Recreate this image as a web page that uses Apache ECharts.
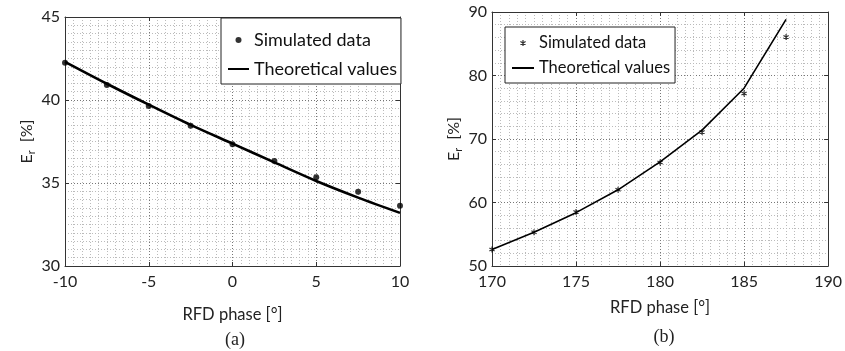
<!DOCTYPE html>
<html>
<head>
<meta charset="utf-8">
<script src="https://cdn.jsdelivr.net/npm/echarts@6/dist/echarts.min.js"></script>
<style>html,body{margin:0;padding:0;background:#fff}#c{width:845px;height:351px}</style>
</head>
<body>
<div id="c"></div>
<script>
// Panel (a)
const phaseA = [-10, -7.5, -5, -2.5, 0, 2.5, 5, 7.5, 10];
const simA = [42.25, 40.9, 39.64, 38.45, 37.33, 36.33, 35.34, 34.48, 33.63];
const theoA = [42.3, 40.98, 39.72, 38.5, 37.37, 36.24, 35.12, 34.12, 33.2];
// Panel (b)
const phaseB = [170, 172.5, 175, 177.5, 180, 182.5, 185, 187.5];
const simB = [52.6, 55.3, 58.5, 62.0, 66.3, 71.1, 77.15, 86.06];
const theoB = [52.6, 55.3, 58.4, 62.0, 66.4, 71.4, 78.0, 88.85];
const xTicksA = [-10, 10, 5];
const yTicksA = [30, 45, 5];
const xTicksB = [170, 190, 5];
const yTicksB = [50, 90, 10];
const legendNames = ['Simulated data', 'Theoretical values'];
const xTitle = 'RFD phase [°]';
const panelLabels = ['(a)', '(b)'];

const pairs = (xs, ys) => xs.map((x, i) => [x, ys[i]]);
const FONT = 'Lato';
const asterisk = 'path://M0,-1L0,1M-0.87,-0.5L0.87,0.5M-0.87,0.5L0.87,-0.5';

function mainX(idx, t, gap) {
  return {
    type: 'value', gridIndex: idx, min: t[0], max: t[1], interval: t[2],
    name: xTitle, nameLocation: 'middle', nameGap: gap,
    nameTextStyle: {fontFamily: FONT, fontSize: 16.5, color: '#222'},
    axisLine: {show: true, onZero: false, lineStyle: {color: '#333', width: 1}},
    axisTick: {show: true, inside: true, length: 4, lineStyle: {color: '#333'}},
    axisLabel: {fontFamily: FONT, fontSize: 16, color: '#222', margin: 8},
    splitLine: {show: true, lineStyle: {color: '#777', type: [1, 2], width: 1}},
    minorTick: {show: false, splitNumber: 10},
    minorSplitLine: {show: true, lineStyle: {color: '#bbb', type: [1, 2], width: 1}}
  };
}
function mainY(idx, t, gap, minorN) {
  return {
    type: 'value', gridIndex: idx, min: t[0], max: t[1], interval: t[2],
    name: '{a|E}{b|r}{a|  [%]}', nameLocation: 'middle', nameGap: gap, nameRotate: 90,
    nameTextStyle: {fontFamily: FONT, color: '#222',
      rich: {a: {fontFamily: FONT, fontSize: 16, lineHeight: 22, color: '#222'},
             b: {fontFamily: FONT, fontSize: 10.5, lineHeight: 10, verticalAlign: 'bottom', color: '#222'}}},
    axisLine: {show: true, onZero: false, lineStyle: {color: '#333', width: 1}},
    axisTick: {show: true, inside: true, length: 4, lineStyle: {color: '#333'}},
    axisLabel: {fontFamily: FONT, fontSize: 16, color: '#222', margin: 5},
    splitLine: {show: true, lineStyle: {color: '#777', type: [1, 2], width: 1}},
    minorTick: {show: false, splitNumber: minorN},
    minorSplitLine: {show: true, lineStyle: {color: '#bbb', type: [1, 2], width: 1}}
  };
}
function boxX(idx, t) {
  return {type: 'value', gridIndex: idx, position: 'top', min: t[0], max: t[1], interval: t[2],
    axisLine: {show: true, onZero: false, lineStyle: {color: '#333'}},
    axisTick: {show: true, inside: true, length: 4, lineStyle: {color: '#333'}},
    axisLabel: {show: false}, splitLine: {show: false}};
}
function boxY(idx, t) {
  return {type: 'value', gridIndex: idx, position: 'right', min: t[0], max: t[1], interval: t[2],
    axisLine: {show: true, onZero: false, lineStyle: {color: '#333'}},
    axisTick: {show: true, inside: true, length: 4, lineStyle: {color: '#333'}},
    axisLabel: {show: false}, splitLine: {show: false}};
}
const noDot = {color: 'rgba(0,0,0,0)', borderWidth: 0, borderColor: 'rgba(0,0,0,0)'};

const chart = echarts.init(document.getElementById('c'), null, {renderer: 'canvas'});
chart.setOption({
  animation: false,
  backgroundColor: '#fff',
  grid: [
    {left: 65, right: 445, top: 17, bottom: 85},
    {left: 492, right: 13, top: 12, bottom: 85}
  ],
  xAxis: [mainX(0, xTicksA, 40), mainX(1, xTicksB, 33), boxX(0, xTicksA), boxX(1, xTicksB)],
  yAxis: [mainY(0, yTicksA, 22, 10), mainY(1, yTicksB, 26, 5), boxY(0, yTicksA), boxY(1, yTicksB)],
  legend: [
    {
      left: 221, top: 18, orient: 'vertical',
      data: [{name: legendNames[0] + '|a'}, {name: legendNames[1] + '|a', itemStyle: noDot}],
      formatter: n => n.split('|')[0],
      itemWidth: 21, itemHeight: 6, itemGap: 9,
      padding: [12, 4, 5, 6],
      backgroundColor: '#fff', borderColor: '#222', borderWidth: 1, borderRadius: 0,
      textStyle: {fontFamily: FONT, fontSize: 18, lineHeight: 20, color: '#111'},
      selectedMode: false
    },
    {
      left: 505, top: 27, orient: 'vertical',
      data: [{name: legendNames[0] + '|b', itemStyle: {color: '#000', borderColor: '#000', borderWidth: 1.2}},
             {name: legendNames[1] + '|b', itemStyle: noDot}],
      formatter: n => n.split('|')[0],
      itemWidth: 22, itemHeight: 6, itemGap: 7,
      padding: [7, 5, 6, 6],
      backgroundColor: '#fff', borderColor: '#222', borderWidth: 1, borderRadius: 0,
      textStyle: {fontFamily: FONT, fontSize: 16.5, lineHeight: 18, color: '#111'},
      selectedMode: false
    }
  ],
  graphic: [
    {type: 'text', x: 235, y: 340, style: {text: panelLabels[0], fontFamily: 'Liberation Serif', fontSize: 18, fill: '#222', align: 'center', verticalAlign: 'middle'}},
    {type: 'text', x: 664, y: 337, style: {text: panelLabels[1], fontFamily: 'Liberation Serif', fontSize: 18, fill: '#222', align: 'center', verticalAlign: 'middle'}}
  ],
  series: [
    {
      name: legendNames[1] + '|a', type: 'line', xAxisIndex: 0, yAxisIndex: 0,
      data: pairs(phaseA, theoA), symbol: 'none', smooth: 0.3,
      lineStyle: {color: '#000', width: 2.6}, itemStyle: {color: '#000'}, z: 3
    },
    {
      name: legendNames[0] + '|a', type: 'scatter', xAxisIndex: 0, yAxisIndex: 0,
      data: pairs(phaseA, simA), symbol: 'circle', symbolSize: 6,
      itemStyle: {color: '#000'}, z: 4
    },
    {
      name: legendNames[1] + '|b', type: 'line', xAxisIndex: 1, yAxisIndex: 1,
      data: pairs(phaseB, theoB), symbol: 'none',
      lineStyle: {color: '#000', width: 1.6}, itemStyle: {color: '#000'}, z: 3
    },
    {
      name: legendNames[0] + '|b', type: 'scatter', xAxisIndex: 1, yAxisIndex: 1,
      data: pairs(phaseB, simB), symbol: asterisk, symbolSize: 6, symbolKeepAspect: true,
      itemStyle: {color: '#000', borderColor: '#000', borderWidth: 1.2}, z: 4
    }
  ]
});
</script>
</body>
</html>
